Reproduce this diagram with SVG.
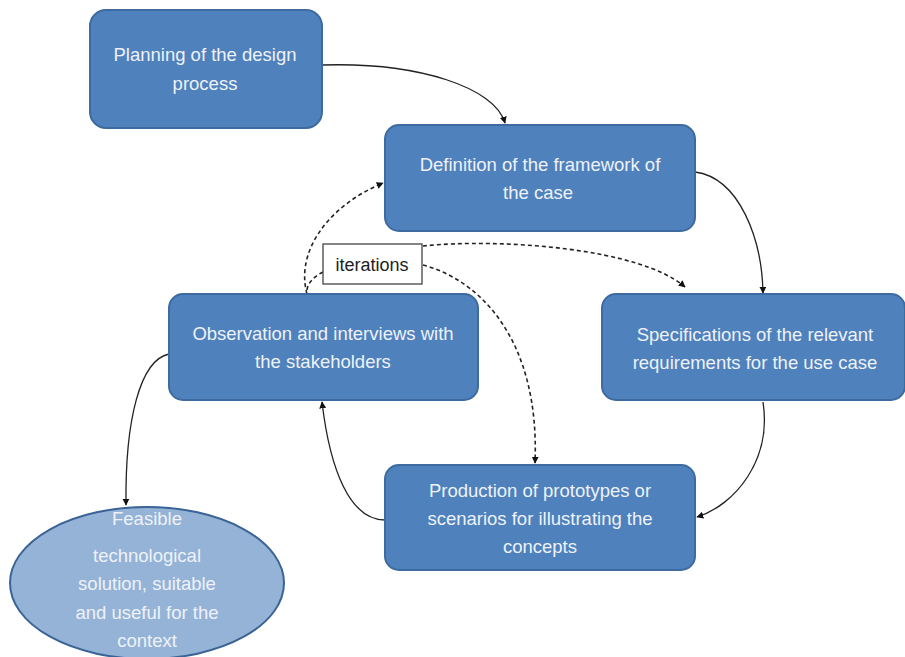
<svg xmlns="http://www.w3.org/2000/svg" width="905" height="657" viewBox="0 0 905 657">
<style>
.box{fill:#4f81bd;stroke:#3d6b9f;stroke-width:2}
.ell{fill:#95b3d7;stroke:#3a6496;stroke-width:2}
.t{font-family:"Liberation Sans",Arial,sans-serif;font-size:18.5px;fill:#eef2f8;text-anchor:middle}
.it{font-family:"Liberation Sans",Arial,sans-serif;font-size:18px;fill:#222;text-anchor:middle}
.c{fill:none;stroke:#222;stroke-width:1.3}
.d{fill:none;stroke:#222;stroke-width:1.6;stroke-dasharray:4 3}
</style>
<defs>
<marker id="a" viewBox="0 0 10 10" refX="9" refY="5" markerWidth="7" markerHeight="7" orient="auto" markerUnits="userSpaceOnUse">
<path d="M0,0 L10,5 L0,10 z" fill="#111"/>
</marker>
</defs>
<rect width="905" height="657" fill="#fff"/>
<g id="connectors">
<path class="c" d="M322,65 C420,62 495,88 505,123" marker-end="url(#a)"/>
<path class="c" d="M695,172 C740,178 762,240 763,293" marker-end="url(#a)"/>
<path class="c" d="M763,402 C772,460 735,505 697,517" marker-end="url(#a)"/>
<path class="c" d="M385,520 C350,520 330,470 322,402" marker-end="url(#a)"/>
<path class="c" d="M169,354 C140,360 125,420 126,505" marker-end="url(#a)"/>
<path class="d" d="M307,294 C295,250 330,205 383,183" marker-end="url(#a)"/>
<path class="d" d="M323,272 C315,276 308,282 307,290"/>
<path class="d" d="M423,246 C500,238 640,248 685,287" marker-end="url(#a)"/>
<path class="d" d="M423,265 C480,280 540,340 535,463" marker-end="url(#a)"/>
</g>
<g id="planning">
<rect class="box" x="90" y="10" width="232" height="118" rx="16"/>
<text class="t" x="205" y="61">Planning of the design</text>
<text class="t" x="205" y="90">process</text>
</g>
<g id="definition">
<rect class="box" x="385" y="125" width="310" height="106" rx="14"/>
<text class="t" x="540" y="171">Definition of the framework of</text>
<text class="t" x="538" y="199">the case</text>
</g>
<g id="observation">
<rect class="box" x="169" y="294" width="309" height="106" rx="14"/>
<text class="t" x="323" y="340">Observation and interviews with</text>
<text class="t" x="323" y="368">the stakeholders</text>
</g>
<g id="specifications">
<rect class="box" x="602" y="294" width="303" height="106" rx="14"/>
<text class="t" x="755" y="341">Specifications of the relevant</text>
<text class="t" x="755" y="369">requirements for the use case</text>
</g>
<g id="production">
<rect class="box" x="385" y="465" width="310" height="105" rx="14"/>
<text class="t" x="540" y="497">Production of prototypes or</text>
<text class="t" x="540" y="525">scenarios for illustrating the</text>
<text class="t" x="540" y="553">concepts</text>
</g>
<g id="solution">
<ellipse class="ell" cx="147" cy="583" rx="137" ry="76"/>
<text class="t" x="147" y="525">Feasible</text>
<text class="t" x="147" y="562">technological</text>
<text class="t" x="147" y="590">solution, suitable</text>
<text class="t" x="147" y="619">and useful  for the</text>
<text class="t" x="147" y="647">context</text>
</g>
<g id="iterations">
<rect x="323" y="244" width="99" height="40" fill="#fff" stroke="#444" stroke-width="1.3"/>
<text class="it" x="372" y="271">iterations</text>
</g>
</svg>
